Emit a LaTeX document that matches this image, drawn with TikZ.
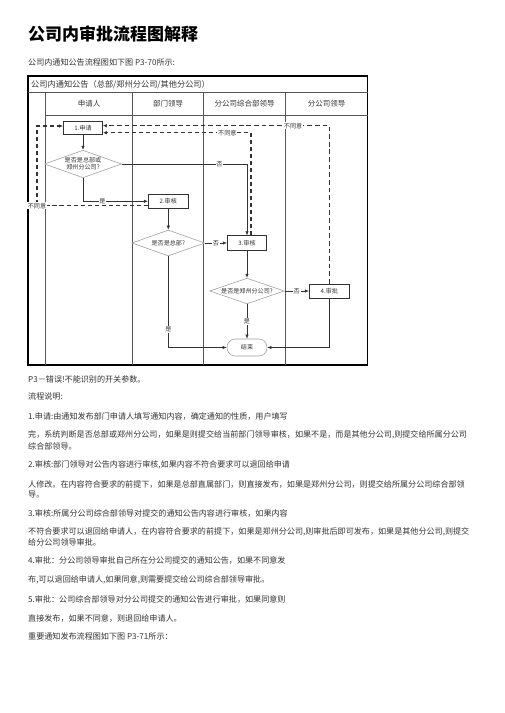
\documentclass[tikz,border=0pt]{standalone}
\usepackage{fontspec}
\setmainfont{Noto Sans CJK SC}
\usetikzlibrary{arrows.meta,positioning,calc,shapes.geometric}
\definecolor{ink}{HTML}{333333}
\definecolor{lanegray}{HTML}{555555}
\definecolor{softgray}{HTML}{A0A0A0}
\newcommand{\chartsmall}{\fontsize{5.2}{6.2}\selectfont}
\newcommand{\chartmid}{\fontsize{6.4}{7.5}\selectfont}
\newcommand{\bodysize}{\fontsize{6.9}{8}\selectfont}
\tikzset{
  frame/.style={draw=black, line width=0.9pt},
  lane/.style={draw=lanegray, line width=0.6pt},
  stepbox/.style={draw=ink, line width=0.6pt, fill=white, inner sep=0pt, font=\chartsmall, text=ink},
  choice/.style={diamond, draw=softgray, line width=0.5pt, fill=white, inner sep=0.5pt, shape aspect=2.8, align=center, font=\chartsmall, text=ink},
  endbox/.style={draw=softgray, line width=0.5pt, rounded corners=0.25cm, fill=white, inner sep=0pt, minimum width=1.2cm, minimum height=0.51cm, font=\chartsmall, text=ink},
  lanehead/.style={font=\chartmid, text=ink, inner sep=0pt},
  lbl/.style={fill=white, inner sep=0.6pt, font=\chartsmall, text=ink},
  flow/.style={-{Latex[length=3.5pt,width=3pt]}, line width=0.6pt, draw=ink},
  rejectthick/.style={flow, line width=1.1pt, dash pattern=on 3.5pt off 2.5pt},
  rejectthin/.style={flow, line width=0.5pt, dash pattern=on 4pt off 2.5pt},
  bodytext/.style={anchor=west, inner sep=0pt, font=\bodysize, text=ink},
  headline/.style={anchor=west, inner sep=0pt, font=\fontsize{14.5}{17}\bfseries\selectfont, text=black}
}
\begin{document}
\begin{tikzpicture}[x=0.03cm, y=-0.03cm]
  \useasboundingbox (0,0) rectangle (504,713);
  % heading
  \node[headline] (title) at (28,34) {公司内审批流程图解释};
  \node[bodytext] (intro) at (28,62) {公司内通知公告流程图如下图 P3-70所示:};

  % swimlane table
  \draw[frame] (28,76) rectangle (367.5,365);
  \draw[lane] (28,92.7) -- (367.5,92.7);
  \draw[lane] (45.7,115) -- (367.5,115);
  \draw[lane] (45.7,92.7) -- (45.7,365);
  \draw[lane] (132.7,92.7) -- (132.7,365);
  \draw[lane] (203.7,92.7) -- (203.7,365);
  \draw[lane] (285.5,92.7) -- (285.5,365);
  \node[lanehead, anchor=west, font=\fontsize{7}{8}\selectfont] (chart) at (31,84.5) {公司内通知公告（总部/郑州分公司/其他分公司）};
  \node[lanehead] (applicant) at (89,104) {申请人};
  \node[lanehead] (deptlead) at (168.2,104) {部门领导};
  \node[lanehead] (branchadmin) at (244.6,104) {分公司综合部领导};
  \node[lanehead] (branchlead) at (326.5,104) {分公司领导};

  % steps
  \node[stepbox, minimum width=1.17cm, minimum height=0.39cm] (apply) at (83,128) {1.申请};
  \node[choice, minimum width=2.19cm, minimum height=0.78cm] (hqq) at (83,164) {是否是总部或\\郑州分公司?};
  \node[stepbox, minimum width=1.2cm, minimum height=0.42cm] (review) at (168.3,201.3) {2.审核};
  \node[choice, minimum width=2.18cm, minimum height=0.78cm] (hqonly) at (168.3,243) {是否是总部?};
  \node[stepbox, minimum width=1.18cm, minimum height=0.43cm] (check) at (247,243) {3.审核};
  \node[choice, minimum width=2.24cm, minimum height=0.77cm] (zzq) at (247,291) {是否是郑州分公司?};
  \node[stepbox, minimum width=1.2cm, minimum height=0.42cm] (approve) at (329.3,291) {4.审批};
  \node[endbox] (finish) at (247,347.5) {结束};

  % main flow
  \draw[flow] (apply.south) -- (hqq.north);
  \draw[flow] (hqq.south) |- node[lbl, pos=0.65] {是} (review.west);
  \draw[flow] (hqq.east) -| node[lbl, pos=0.39] {否} (check.north);
  \draw[flow] (review.south) -- (hqonly.north);
  \draw[flow] (hqonly.east) -- node[lbl, pos=0.5] {否} (check.west);
  \draw[flow] (hqonly.south) |- node[lbl, pos=0.4] {是} (finish.west);
  \draw[flow] (check.south) -- (zzq.north);
  \draw[flow] (zzq.east) -- node[lbl] {否} (approve.west);
  \draw[flow] (zzq.south) -- node[lbl] {是} (finish.north);
  \draw[flow] (approve.south) |- (finish.east);

  % send back to applicant
  \coordinate (leftrail) at (37,205.8);
  \draw[rejectthick] ($(check.north)+(4,0)$) |- node[lbl, pos=0.58] {不同意} ($(apply.east)+(0,4.7)$);
  \draw[rejectthin] (approve.north) |- node[lbl, pos=0.58] {不同意} ($(apply.east)+(0,-2.3)$);
  \draw[rejectthick] ($(review.west)+(0,4.5)$) -- (leftrail) |- ($(apply.west)+(0,-2)$);
  \node[lbl] (leftlbl) at (leftrail) {不同意};

  % notes below
  \node[bodytext] (err) at (28,379) {P3－错误!不能识别的开关参数。};
  \node[bodytext] (notes) at (28,396) {流程说明:};
  \node[bodytext] (s1a) at (28,416.7) {1.申请:由通知发布部门申请人填写通知内容，确定通知的性质，用户填写};
  \node[bodytext] (s1b) at (28,435.3) {完，系统判断是否总部或郑州分公司，如果是则提交给当前部门领导审核，如果不是，而是其他分公司,则提交给所属分公司};
  \node[bodytext] (s1c) at (28,446) {综合部领导。};
  \node[bodytext] (s2a) at (28,465.3) {2.审核:部门领导对公告内容进行审核,如果内容不符合要求可以退回给申请};
  \node[bodytext] (s2b) at (28,484) {人修改。在内容符合要求的前提下，如果是总部直属部门，则直接发布，如果是郑州分公司，则提交给所属分公司综合部领};
  \node[bodytext] (s2c) at (28,494.5) {导。};
  \node[bodytext] (s3a) at (28,513.3) {3.审核:所属分公司综合部领导对提交的通知公告内容进行审核，如果内容};
  \node[bodytext] (s3b) at (28,532) {不符合要求可以退回给申请人，在内容符合要求的前提下，如果是郑州分公司,则审批后即可发布，如果是其他分公司,则提交};
  \node[bodytext] (s3c) at (28,542.5) {给分公司领导审批。};
  \node[bodytext] (s4a) at (28,560.7) {4.审批：分公司领导审批自己所在分公司提交的通知公告，如果不同意发};
  \node[bodytext] (s4b) at (28,580) {布,可以退回给申请人,如果同意,则需要提交给公司综合部领导审批。};
  \node[bodytext] (s5a) at (28,599) {5.审批：公司综合部领导对分公司提交的通知公告进行审批，如果同意则};
  \node[bodytext] (s5b) at (28,618.3) {直接发布，如果不同意，则退回给申请人。};
  \node[bodytext] (next) at (28,636.7) {重要通知发布流程图如下图 P3-71所示：};
\end{tikzpicture}
\end{document}
